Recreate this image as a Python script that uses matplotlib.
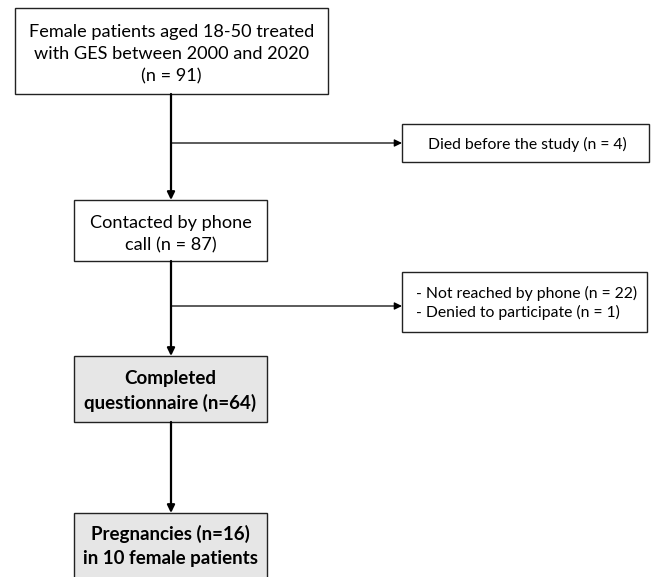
import matplotlib.pyplot as plt
from matplotlib.patches import Rectangle

plt.rcParams['font.family'] = ['Lato', 'DejaVu Sans']

# box texts
main_texts = [
    "Female patients aged 18-50 treated\nwith GES between 2000 and 2020\n(n = 91)",
    "Contacted by phone\ncall (n = 87)",
    "Completed\nquestionnaire (n=64)",
    "Pregnancies (n=16)\nin 10 female patients",
]
side_texts = [
    "Died before the study (n = 4)",
    "- Not reached by phone (n = 22)\n- Denied to participate (n = 1)",
]

# layout in pixels (x0, y0, x1, y1)
main_boxes = [(15, 8, 328, 94), (74, 200, 267, 261), (74, 356, 267, 422), (74, 513, 267, 600)]
main_text_y = [54, 234, 391, 546]
main_bold = [False, False, True, True]
main_fill = ["white", "white", "#e6e6e6", "#e6e6e6"]
side_boxes = [(402, 124, 649, 162), (402, 272, 647, 332)]
branch_y = [143, 306]
cx = 171

fig = plt.figure(figsize=(6.54, 5.77), dpi=100)
ax = fig.add_axes([0, 0, 1, 1])
ax.set_xlim(0, 654)
ax.set_ylim(577, 0)
ax.axis("off")

for (x0, y0, x1, y1), ty, txt, bold, fc in zip(main_boxes, main_text_y, main_texts, main_bold, main_fill):
    ax.add_patch(Rectangle((x0, y0), x1 - x0, y1 - y0, facecolor=fc, edgecolor="#222222", lw=1))
    ax.text((x0 + x1) / 2, ty, txt, ha="center", va="center",
            fontsize=13.5 if bold else 13.1,
            fontweight="bold" if bold else "normal", linespacing=1.45)

for (x0, y0, x1, y1), txt in zip(side_boxes, side_texts):
    ax.add_patch(Rectangle((x0, y0), x1 - x0, y1 - y0, facecolor="white", edgecolor="#222222", lw=1))
    ax.text((x0 + x1) / 2 + 2, (y0 + y1) / 2 + 1, txt, ha="center", va="center", multialignment="left",
            fontsize=11.3, linespacing=1.4)

# vertical arrows
for i in range(3):
    ax.annotate("", xy=(cx, main_boxes[i + 1][1]), xytext=(cx, main_boxes[i][3]),
                arrowprops=dict(arrowstyle="-|>,head_length=0.45,head_width=0.22", color="black", lw=1.6,
                                shrinkA=0, shrinkB=0))

# branch arrows
for by, (x0, y0, x1, y1) in zip(branch_y, side_boxes):
    ax.annotate("", xy=(x0, by), xytext=(cx, by),
                arrowprops=dict(arrowstyle="-|>,head_length=0.45,head_width=0.22", color="black", lw=0.9,
                                shrinkA=0, shrinkB=0))

fig.savefig("out.png", dpi=100)
